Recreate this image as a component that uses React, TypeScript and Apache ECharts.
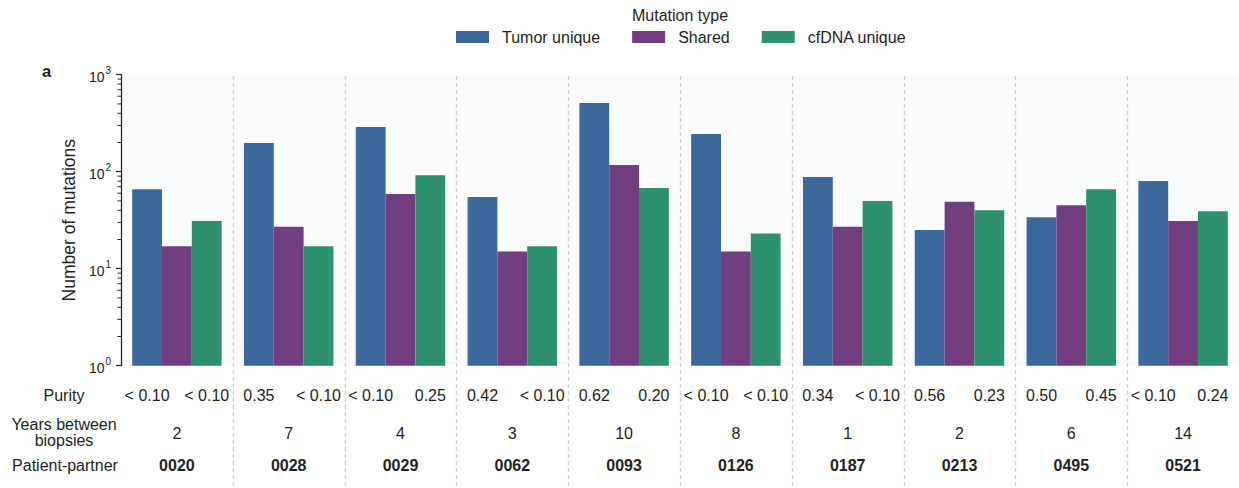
import React, { useEffect, useRef } from 'react';
import * as echarts from 'echarts';

const categories = ['0020', '0028', '0029', '0062', '0093', '0126', '0187', '0213', '0495', '0521'];
const tumorUnique = [66, 198, 289, 55, 511, 245, 88, 25, 34, 80];
const shared = [17, 27, 59, 15, 117, 15, 27, 49, 45, 31];
const cfdnaUnique = [31, 17, 92, 17, 68, 23, 50, 40, 66, 39];
const purityTumor = ['< 0.10', '0.35', '< 0.10', '0.42', '0.62', '< 0.10', '0.34', '0.56', '0.50', '< 0.10'];
const purityCfdna = ['< 0.10', '< 0.10', '0.25', '< 0.10', '0.20', '< 0.10', '< 0.10', '0.23', '0.45', '0.24'];
const yearsBetween = ['2', '7', '4', '3', '10', '8', '1', '2', '6', '14'];
const seriesNames = ['Tumor unique', 'Shared', 'cfDNA unique'];
const minorMultipliers = [2, 3, 4, 5, 6, 7, 8, 9];
const decades = [1, 10, 100];

const FONT = "'Liberation Sans', Arial, Helvetica, sans-serif";
const TEXT = '#231f20';
const COLORS = ['#3d689c', '#733e7f', '#2d9170'];
const GRID_LEFT = 121;
const GRID_TOP = 74.7;
const GRID_W = 1119;
const GRID_H = 291;

export default function App() {
  const ref = useRef<HTMLDivElement>(null);
  useEffect(() => {
    if (!ref.current) return;
    const chart = echarts.init(ref.current, undefined, { renderer: 'svg' });
    const seriesData = [tumorUnique, shared, cfdnaUnique];
    chart.setOption({
      animation: false,
      grid: {
        left: GRID_LEFT,
        top: GRID_TOP,
        width: GRID_W,
        height: GRID_H,
        show: true,
        backgroundColor: '#fafbfd',
        borderWidth: 0,
      },
      legend: {
        data: seriesNames,
        left: 456,
        top: 29,
        padding: 0,
        itemWidth: 33,
        itemHeight: 12,
        itemGap: 32,
        icon: 'rect',
        textStyle: { fontSize: 16, color: TEXT, fontFamily: FONT, padding: [0, 0, 0, 8] },
      },
      xAxis: {
        type: 'category',
        data: categories,
        axisLine: { show: false },
        axisTick: { show: false },
        axisLabel: { show: false },
        splitLine: { show: false },
      },
      yAxis: {
        type: 'log',
        logBase: 10,
        min: 1,
        max: 1000,
        name: 'Number of mutations',
        nameLocation: 'middle',
        nameGap: 38,
        nameTextStyle: { fontSize: 17.5, color: TEXT, fontFamily: FONT },
        axisLine: { show: true, lineStyle: { color: '#2d2626', width: 1.3 } },
        axisTick: { show: true, inside: false, length: 5, lineStyle: { color: '#2d2626', width: 1.2 } },
        splitLine: { show: false },
        axisLabel: {
          margin: 10,
          formatter: (v: number) => `{b|10}{s|${Math.round(Math.log10(v))}}`,
          rich: {
            b: { fontSize: 14, color: TEXT, fontFamily: FONT, lineHeight: 18, verticalAlign: 'bottom' },
            s: { fontSize: 10, color: TEXT, fontFamily: FONT, lineHeight: 18, verticalAlign: 'top', padding: [0, 0, 0, 1] },
          },
        },
      },
      series: seriesNames.map((name, k) => ({
        name,
        type: 'bar',
        data: seriesData[k],
        barGap: '0%',
        barCategoryGap: '20%',
        itemStyle: { color: COLORS[k] },
      })),
    });

    const cx = categories.map((c) => chart.convertToPixel({ xAxisIndex: 0 }, c) as number);
    const step = cx[1] - cx[0];
    const bw = (step * 0.8) / 3;
    const txt = (text: string, x: number, y: number, extra: any = {}) => ({
      type: 'text',
      x,
      y,
      silent: true,
      style: {
        text,
        fill: TEXT,
        fontSize: 16,
        fontFamily: FONT,
        align: 'center',
        verticalAlign: 'middle',
        ...extra,
      },
    });
    const g: any[] = [];
    g.push(txt('Mutation type', 680, 15));
    g.push(txt('a', 42, 71, { align: 'left', fontWeight: 'bold', fontSize: 16.5 }));
    g.push(txt('Purity', 64, 395));
    g.push(txt('Years between\nbiopsies', 64, 432.5, { lineHeight: 15.5 }));
    g.push(txt('Patient-partner', 65, 465));
    categories.forEach((c, i) => {
      g.push(txt(purityTumor[i], cx[i] - bw, 395));
      g.push(txt(purityCfdna[i], cx[i] + bw, 395));
      g.push(txt(yearsBetween[i], cx[i], 433));
      g.push(txt(c, cx[i], 465, { fontWeight: 'bold' }));
      if (i < categories.length - 1) {
        const sx = Math.round((cx[i] + cx[i + 1]) / 2) + 0.5;
        g.push({
          type: 'line',
          silent: true,
          shape: { x1: sx, y1: 76, x2: sx, y2: 488 },
          style: { stroke: '#cfcfcf', lineWidth: 1.3, lineDash: [4, 3] },
        });
      }
    });
    decades.forEach((d) => {
      minorMultipliers.forEach((m) => {
        const y = chart.convertToPixel({ yAxisIndex: 0 }, d * m) as number;
        g.push({
          type: 'line',
          silent: true,
          shape: { x1: GRID_LEFT - 3.5, y1: y, x2: GRID_LEFT, y2: y },
          style: { stroke: '#2d2626', lineWidth: 1 },
        });
      });
    });
    chart.setOption({ graphic: g });
    return () => chart.dispose();
  }, []);
  return <div ref={ref} style={{ position: 'absolute', left: 0, top: 0, width: 1239, height: 488 }} />;
}
